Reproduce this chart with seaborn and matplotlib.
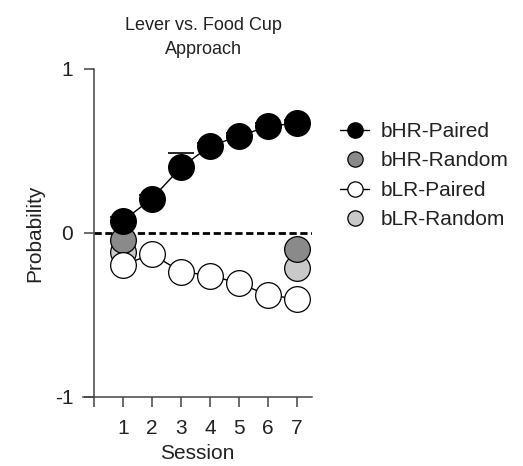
import numpy as np
import matplotlib
matplotlib.use("Agg")
import matplotlib.pyplot as plt
import seaborn as sns
from matplotlib.lines import Line2D

# valeurs
sessions = [1, 2, 3, 4, 5, 6, 7]
bhr_paired = [0.075, 0.21, 0.40, 0.53, 0.59, 0.65, 0.67]
bhr_paired_sem = [0.02, 0.02, 0.085, 0.02, 0.02, 0.02, 0.02]
blr_paired = [-0.195, -0.13, -0.235, -0.26, -0.305, -0.38, -0.40]
random_sessions = [1, 7]
bhr_random = [-0.045, -0.095]
blr_random = [-0.115, -0.215]
labels = ["bHR-Paired", "bHR-Random", "bLR-Paired", "bLR-Random"]

sns.set_style("ticks")
plt.rcParams["font.family"] = ["Liberation Sans", "DejaVu Sans"]
plt.rcParams["text.color"] = "#222222"
plt.rcParams["axes.labelcolor"] = "#222222"
plt.rcParams["xtick.color"] = "#222222"
plt.rcParams["ytick.color"] = "#222222"

fs = 15
fig = plt.figure(figsize=(5.23, 4.66), dpi=100)
ax = fig.add_axes([83 / 523, 1 - 397 / 466, 229 / 523, 328 / 466])

ms = 18.5
dark = "#8a8a8a"
light = "#c9c9c9"

# ligne pointillée à zéro
ax.axhline(0, xmin=0.38 / 7.9, xmax=1, color="black", ls=(0, (2.6, 1.3)), lw=2, zorder=2)

# barre d'erreur (cap visible seulement au-dessus)
ax.errorbar(sessions, bhr_paired, yerr=[np.zeros(7), bhr_paired_sem], fmt="none",
            ecolor="black", elinewidth=1, capsize=9.5, capthick=1.2, zorder=3)

sns.scatterplot(x=random_sessions, y=blr_random, ax=ax, s=ms ** 2, color=light,
                edgecolor="black", linewidth=0.9, zorder=4, legend=False)
sns.scatterplot(x=random_sessions, y=bhr_random, ax=ax, s=ms ** 2, color=dark,
                edgecolor="black", linewidth=0.9, zorder=5, legend=False)
sns.lineplot(x=sessions, y=blr_paired, ax=ax, color="black", lw=1, marker="o",
             markersize=ms, markerfacecolor="white", markeredgecolor="black",
             markeredgewidth=0.9, zorder=6)
sns.lineplot(x=sessions, y=bhr_paired, ax=ax, color="black", lw=1, marker="o",
             markersize=ms, markerfacecolor="black", markeredgecolor="black",
             markeredgewidth=0.9, zorder=7)

ax.set_xlim(-0.38, 7.52)
ax.set_ylim(-1, 1)
ax.spines["top"].set_visible(False)
ax.spines["right"].set_visible(False)
ax.spines["left"].set_position(("data", 0))
for s in ["left", "bottom"]:
    ax.spines[s].set_color("#444444")
    ax.spines[s].set_linewidth(1.1)

ax.set_xticks(range(0, 8))
ax.set_xticklabels([""] + [str(s) for s in sessions], fontsize=fs)
ax.set_yticks([-1, 0, 1])
ax.set_yticklabels(["-1", "0", "1"], fontsize=fs)
ax.tick_params(direction="out", length=7, width=1.1, color="#444444")
ax.tick_params(axis="x", pad=9)
ax.tick_params(axis="y", pad=8)

ax.set_xlabel("Session", fontsize=fs, labelpad=4.5)
ax.set_ylabel("Probability", fontsize=fs)
ax.yaxis.set_label_coords(-0.17, 0.5)
ax.set_title("Lever vs. Food Cup\nApproach", fontsize=13, pad=11,
             x=(203 - 83) / 229, linespacing=1.55)

handles = [
    Line2D([], [], color="black", lw=1, marker="o", markersize=11, markerfacecolor="black", markeredgecolor="black"),
    Line2D([], [], color="none", marker="o", markersize=11, markerfacecolor=dark, markeredgecolor="black", markeredgewidth=0.9),
    Line2D([], [], color="black", lw=1, marker="o", markersize=11, markerfacecolor="white", markeredgecolor="black", markeredgewidth=0.9),
    Line2D([], [], color="none", marker="o", markersize=11, markerfacecolor=light, markeredgecolor="black", markeredgewidth=0.9),
]
fig.legend(handles, labels, loc="upper left", bbox_to_anchor=(340 / 523, 1 - 122 / 466),
           frameon=False, fontsize=fs, handlelength=1.4, handletextpad=0.55,
           labelspacing=0.5, borderpad=0, borderaxespad=0)

fig.savefig("out.png", dpi=100)
